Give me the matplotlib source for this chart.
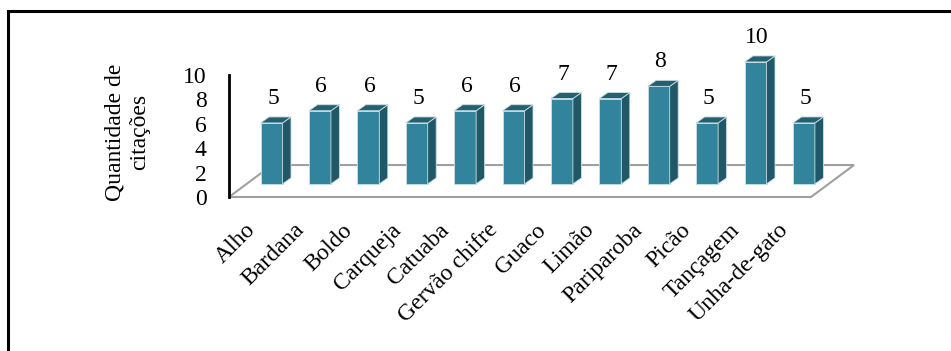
import matplotlib
matplotlib.use("Agg")
import matplotlib.pyplot as plt
from matplotlib.patches import Polygon, Rectangle

categories = ["Alho", "Bardana", "Boldo", "Carqueja", "Catuaba", "Gervão chifre",
              "Guaco", "Limão", "Pariparoba", "Picão", "Tançagem", "Unha-de-gato"]
values = [5, 6, 6, 5, 6, 6, 7, 7, 8, 5, 10, 5]
yticks = [0, 2, 4, 6, 8, 10]
ylabel = "Quantidade de\ncitações"

plt.rcParams['font.family'] = ['Liberation Serif', 'DejaVu Serif']
FS = 17

W, H = 951, 351
fig = plt.figure(figsize=(W / 100, H / 100), dpi=100)

# axes placement (pixel based)
px_per_x = 48.4
px_per_y = 12.2
x0_px = 271.5          # pixel of category 0
y0_px = 197            # pixel of value 0 (front plane)
xlim = (-1, 12.5)
ylim = (-1, 13)
left = (x0_px + xlim[0] * px_per_x) / W
width = (xlim[1] - xlim[0]) * px_per_x / W
bottom = (H - (y0_px - ylim[0] * px_per_y)) / H
height = (ylim[1] - ylim[0]) * px_per_y / H
ax = fig.add_axes([left, bottom, width, height])
ax.set_xlim(*xlim)
ax.set_ylim(*ylim)
ax.patch.set_visible(False)

axis_x = (229 - x0_px) / px_per_x
base = 1.07          # bar base (middle depth)
dx = 8.5 / px_per_x  # depth offset x
dy = 6.0 / px_per_y  # depth offset y
bw = 22 / px_per_x
floor_back = 2.62
floor_dx = 43 / px_per_x
floor_right = (811 - x0_px) / px_per_x

# floor
floor = Polygon([(axis_x, 0), (floor_right, 0), (floor_right + floor_dx, floor_back),
                 (axis_x + floor_dx, floor_back)], closed=True, facecolor='white',
                edgecolor='#a0a0a0', linewidth=1.5, zorder=1)
ax.add_patch(floor)

front_c = '#31849b'
side_c = '#215868'
top_c = '#24606f'
xs = list(range(len(categories)))
ax.bar(xs, values, width=bw, bottom=base, color=front_c, edgecolor='#c9dfe5',
       linewidth=0.6, zorder=3)
for i, v in zip(xs, values):
    r = i + bw / 2
    l = i - bw / 2
    t = base + v
    side = Polygon([(r, base), (r + dx, base + dy), (r + dx, t + dy), (r, t)],
                   closed=True, facecolor=side_c, edgecolor='#c9dfe5', linewidth=0.6, zorder=3)
    top = Polygon([(l, t), (l + dx, t + dy), (r + dx, t + dy), (r, t)],
                  closed=True, facecolor=top_c, edgecolor='#c9dfe5', linewidth=0.6, zorder=3)
    ax.add_patch(side)
    ax.add_patch(top)
    ax.text(i + 0.03, t + 2.0, str(v), ha='center', va='center', fontsize=FS, zorder=4)

# axis
for s in ['top', 'right', 'bottom']:
    ax.spines[s].set_visible(False)
ax.spines['left'].set_position(('data', axis_x))
ax.spines['left'].set_bounds(0, 10)
ax.spines['left'].set_linewidth(2)
ax.spines['left'].set_color('black')
ax.spines['left'].set_zorder(2)
ax.set_yticks(yticks)
ax.set_yticklabels([str(t) for t in yticks], fontsize=FS)
ax.tick_params(axis='y', length=0, pad=16)
ax.set_xticks([])

# category labels
for i, c in zip(xs, categories):
    ax.text(i - 0.24, -1.85, c, rotation=45, ha='right', va='top', fontsize=FS,
            rotation_mode='default')

fig.text(127 / W, (H - 132) / H, ylabel, rotation=90, ha='center', va='center',
         fontsize=FS, linespacing=1.25, multialignment='center')

# frame
fig.patches.append(Rectangle((8 / W, -0.05), 1.0, (H - 11) / H + 0.05,
                             transform=fig.transFigure, fill=False,
                             edgecolor='black', linewidth=2.2))

fig.savefig('out.png', dpi=100)
